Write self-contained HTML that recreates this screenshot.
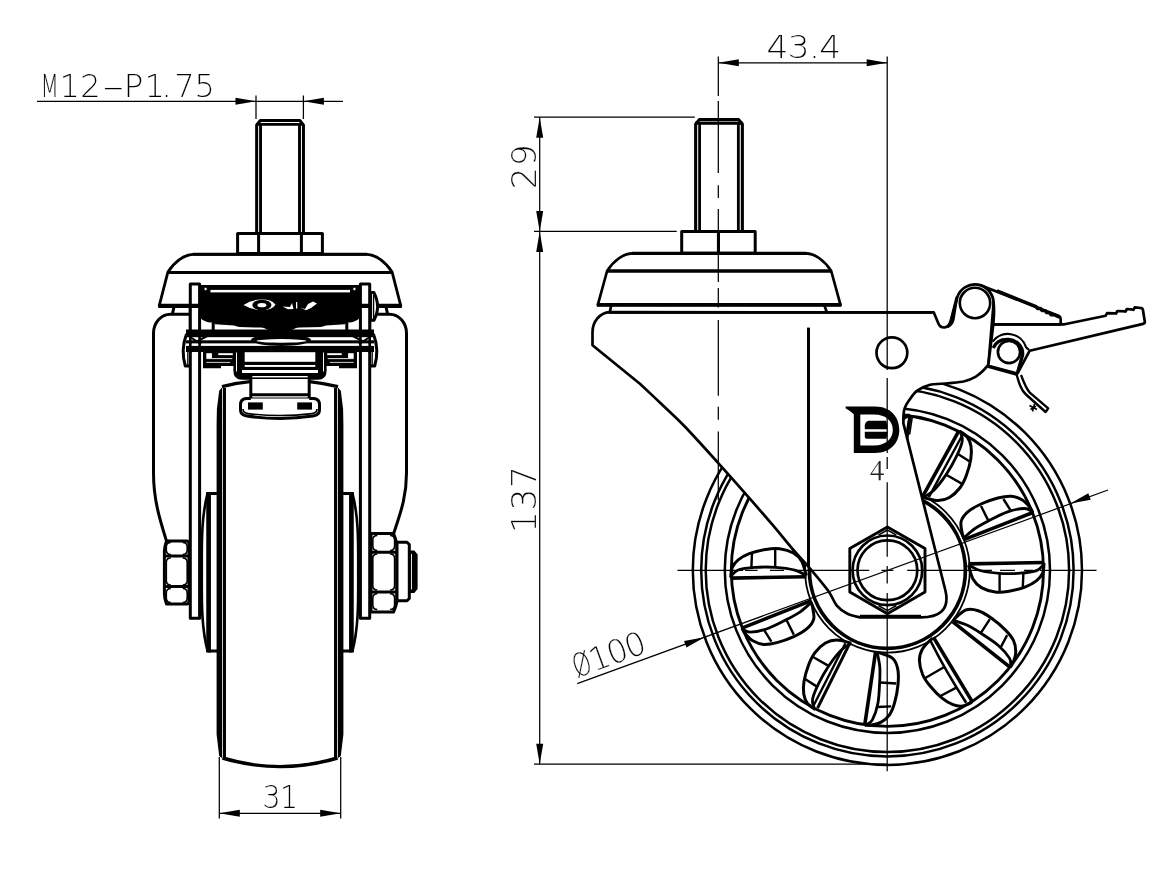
<!DOCTYPE html>
<html><head><meta charset="utf-8"><title>Caster drawing</title>
<style>
html,body{margin:0;padding:0;background:#fff;}
body{width:1174px;height:870px;overflow:hidden;}
svg{display:block;}
.m{fill:none;stroke:#000;stroke-width:3;stroke-linecap:butt;stroke-linejoin:round;}
.r{fill:none;stroke:#000;stroke-width:2.7;stroke-linecap:butt;stroke-linejoin:round;}
.rw{fill:#fff;stroke:#000;stroke-width:2.7;stroke-linejoin:round;}
.mw{fill:#fff;stroke:#000;stroke-width:3;stroke-linejoin:round;}
.t{fill:none;stroke:#000;stroke-width:1.25;}
.k{fill:#000;stroke:none;}
.w{fill:#fff;stroke:none;}
text{font-family:"DejaVu Sans Light","DejaVu Sans","Liberation Sans",sans-serif;font-weight:200;fill:#000;stroke:#fff;stroke-width:0.15px;paint-order:fill stroke;}
.dt{font-size:32px;letter-spacing:-0.6px;}
</style></head><body>
<svg style="filter:grayscale(1)" width="1174" height="870" viewBox="0 0 1174 870">
<rect x="0" y="0" width="1174" height="870" fill="#fff"/>
<g id="front">
<path class="k" d="M224,385 L219.2,390.7 L216.9,409 L216.6,425 V734.5 L219.2,756 L222,758 V388 Z M336,385 L340.8,390.7 L343.1,409 L343.4,425 V734.5 L340.8,756 L338,758 V388 Z"/>
<path class="m" style="stroke-width:3.2" d="M224.4,388 V759 M335.6,388 V759"/>
<path class="m" style="stroke-width:3.4" d="M222.5,758 Q280,775.2 337.5,758"/>
<path class="m" style="stroke-width:3.2" d="M222,386.6 Q250,379.8 280,379.8 Q310,379.8 338,386.6"/>
<path class="m" d="M217.5,493.4 H207.8 M217.5,651 H207.8"/>
<path class="m" style="stroke-width:4.7" d="M208.6,492 V652.4"/>
<path class="m" style="stroke-width:2.6" d="M207.8,492.3 C201.0,518 201.8,545 201.8,572 C201.8,600 201.0,626 207.8,652"/>
<path class="m" d="M342.5,493.4 H352.2 M342.5,651 H352.2"/>
<path class="m" style="stroke-width:4.7" d="M351.4,492 V652.4"/>
<path class="m" style="stroke-width:2.6" d="M352.2,492.3 C359.0,518 358.2,545 358.2,572 C358.2,600 359.0,626 352.2,652"/>
<path class="m" d="M174.2,306 L172.4,314 M190,314.2 H170.5 A17,19 0 0 0 153.5,333.2 V473 C153.5,500 160,520 166.5,541"/>
<path class="m" d="M385.8,306 L387.6,314 M377,314.2 H389.5 A17,19 0 0 1 406.5,333.2 V473 C406.5,498 400,514 393.5,534"/>
<path class="mw" d="M190.3,284 H199.6 V618.3 H190.3 Z"/>
<path class="mw" d="M360.4,284 H369.7 V618.3 H360.4 Z"/>
<path class="mw" d="M166.5,541 H186.5 Q189,541 189,544 V601 Q189,604 186.5,604 H166.5 Q164.4,598 164.4,594 V551 Q164.4,547 166.5,541 Z"/>
<path class="m" d="M164.6,556 H189 M164.6,586.6 H189"/>
<path class="m" style="stroke-width:1.6" d="M170.8,542.5 Q166.3,542.5 166.3,547.0 V550.0 Q166.3,554.5 170.8,554.5 M182.7,542.5 Q187.2,542.5 187.2,547.0 V550.0 Q187.2,554.5 182.7,554.5 M170.8,558.0 Q166.3,558.0 166.3,562.5 V580.5 Q166.3,585.0 170.8,585.0 M182.7,558.0 Q187.2,558.0 187.2,562.5 V580.5 Q187.2,585.0 182.7,585.0 M170.8,588.5 Q166.3,588.5 166.3,593.0 V598.0 Q166.3,602.5 170.8,602.5 M182.7,588.5 Q187.2,588.5 187.2,593.0 V598.0 Q187.2,602.5 182.7,602.5"/>
<path class="mw" d="M371,533.5 H393.5 Q396.8,541 396.8,546 V600 Q396.8,605 393.5,612 H371 Z"/>
<path class="m" d="M371,552.2 H396.6 M371,592 H396.6"/>
<path class="m" style="stroke-width:1.6" d="M377.3,535.5 Q372.8,535.5 372.8,540.0 V546.0 Q372.8,550.5 377.3,550.5 M390.1,535.5 Q394.6,535.5 394.6,540.0 V546.0 Q394.6,550.5 390.1,550.5 M377.3,554.0 Q372.8,554.0 372.8,558.5 V585.5 Q372.8,590.0 377.3,590.0 M390.1,554.0 Q394.6,554.0 394.6,558.5 V585.5 Q394.6,590.0 390.1,590.0 M377.3,593.8 Q372.8,593.8 372.8,598.3 V605.0 Q372.8,609.5 377.3,609.5 M390.1,593.8 Q394.6,593.8 394.6,598.3 V605.0 Q394.6,609.5 390.1,609.5"/>
<path class="mw" d="M397,542.2 H407 L409.3,544.5 V598.5 L407,600.8 H397 Z"/>
<path class="k" d="M409.3,550.5 H414.3 L417.6,554.5 V589 L414.3,593 H409.3 Z"/>
<path class="w" d="M411,554 h0.9 v35.5 h-0.9 Z"/>
<path class="mw" d="M256.65,233.2 V125 L260.3,120.55 H299.8 L303.45,125 V233.2"/>
<path class="m" style="stroke-width:2.9" d="M256,124.35 H304 M260.55,124 V233 M299.5,124 V233"/>
<path class="mw" d="M237.6,233.6 H322.4 V253.5 H237.6 Z"/>
<path class="m" d="M258.6,233.6 V253 M301.4,233.6 V253"/>
<path class="mw" style="stroke-width:2.8" d="M159.2,305.8 L167.8,272.3 C174,262.3 184,254.6 193,254.3 H367 C376,254.6 386,262.3 392.2,272.3 L400.8,305.8 Z"/>
<path class="m" style="stroke-width:3" d="M167.8,272.4 H392.2 M193,254.3 H367"/>
<rect class="w" x="200.8" y="285" width="158.4" height="44"/>
<path class="mw" d="M190.3,329 V284 H199.6 V329"/>
<path class="mw" d="M360.4,329 V284 H369.7 V329"/>
<path class="m" style="stroke-width:4.2" d="M158.3,305.8 H201 M359,305.8 H401.7"/>
<path class="mw" d="M370.6,292.6 H374 Q377.6,300 377.6,306.5 Q377.6,313 374,320.3 H370.6 Z"/>
<path class="m" style="stroke-width:1.3" d="M373.6,294 V319"/>
<path class="k" d="M200.8,285 H359.2 V291 H200.8 Z"/>
<path class="k" d="M201,290 H359 V318.5 Q356,321.5 350,322.6 L346.5,322.2 L345,324.2 L326,325.6 L321,327 L300,327.6 L280,328.8 L260,327.6 L239,327 L234,325.6 L215,324.2 L213.5,322.2 L210,322.6 Q204,321.5 201,318.5 Z"/>
<rect class="w" x="210.5" y="289.9" width="139.5" height="2.5"/>
<rect class="w" x="204.6" y="287.8" width="2" height="2.4" /><rect class="w" x="353.4" y="287.8" width="2" height="2.4" />
<path class="w" d="M243.5,305 Q252,299.3 262,299.6 Q272,299.5 275.5,304.8 Q272,310.2 262,310 Q252,310 243.5,305 Z"/>
<ellipse cx="261.9" cy="305" rx="9.6" ry="5.2" fill="#000"/>
<ellipse cx="261.9" cy="305.2" rx="4.4" ry="2.1" fill="#fff"/>
<path class="w" d="M282.5,306.5 L290,307 L292,303 L293.5,309 L288,309.3 Z M296,302 L297.2,302 L297.4,308.5 L296,308.5 Z M300,307.5 L305,309 L308,304 L313,301.5 L317,303.5 L311,308 L306,310.3 Z"/>
<path class="m" style="stroke-width:3" d="M213.2,321 V330 M346.8,321 V330"/>
<path class="k" d="M262,327 H298 L290,331 H270 Z"/>
<rect class="k" x="186" y="329.5" width="188" height="7.9"/>
<rect class="w" x="186.5" y="337.4" width="187" height="3"/>
<rect class="k" x="186" y="340.3" width="188" height="3.3"/>
<rect class="w" x="186.5" y="343.6" width="187" height="2.3"/>
<rect class="k" x="186" y="345.9" width="188" height="6.1"/>
<ellipse cx="281" cy="340" rx="30" ry="6" fill="#000"/>
<ellipse cx="281.5" cy="340.9" rx="25" ry="1.8" fill="#fff"/>
<path class="m" style="stroke-width:2.6" d="M190.3,329 V353 M199.6,329 V353"/>
<path class="m" style="stroke-width:2" d="M187.0,335 L201.0,344 M209.0,335 L196.0,342"/>
<path class="m" d="M186.5,334 Q180.5,350 185.3,366 H189.5"/>
<path class="m" style="stroke-width:1.3" d="M187.8,348 V365"/>
<path class="k" d="M203.0,351 H234.0 V366 H221.0 V368.3 H203.0 Z"/>
<rect class="w" x="206.3" y="353.2" width="5.6" height="5"/>
<rect class="w" x="218.3" y="353.2" width="14.5" height="1.9"/>
<rect class="w" x="206.3" y="358.2" width="26" height="0.9"/>
<rect class="w" x="206.3" y="361.9" width="24" height="0.8"/>
<path class="m" style="stroke-width:2.6" d="M369.7,329 V353 M360.4,329 V353"/>
<path class="m" style="stroke-width:2" d="M373.0,335 L359.0,344 M351.0,335 L364.0,342"/>
<path class="m" d="M373.5,334 Q379.5,350 374.7,366 H370.5"/>
<path class="m" style="stroke-width:1.3" d="M372.2,348 V365"/>
<path class="k" d="M357.0,351 H326.0 V366 H339.0 V368.3 H357.0 Z"/>
<rect class="w" x="348.1" y="353.2" width="5.6" height="5"/>
<rect class="w" x="327.2" y="353.2" width="14.5" height="1.9"/>
<rect class="w" x="327.7" y="358.2" width="26" height="0.9"/>
<rect class="w" x="329.7" y="361.9" width="24" height="0.8"/>
<path class="k" d="M233.4,351 H326.6 V371 Q326.6,379.6 318,379.8 H242 Q233.4,379.6 233.4,371 Z"/>
<rect class="w" x="244.7" y="352.2" width="70.6" height="9.6"/>
<rect class="w" x="244.7" y="365" width="70.6" height="1.9"/>
<rect class="w" x="242" y="370" width="76" height="3"/>
<rect class="w" x="252.3" y="376" width="55.4" height="1.4"/>
<path class="w" d="M236,352.5 h1 v19 h-1 Z M323,352.5 h1 v19 h-1 Z"/>
<path class="mw" d="M250.8,379 V399 H309.2 V379"/>
<path class="m" d="M250.8,394.8 H309.2"/>
<path class="mw" d="M250.8,398.6 H246 Q240.5,399 240.5,405 V410 Q240.5,415 247,416 Q280,420.8 313,416 Q319.5,415 319.5,410 V405 Q319.5,399 314,398.6 H309.2"/>
<path class="m" style="stroke-width:1.6" d="M243,409 Q243,413 248,413.6 Q280,417.5 312,413.6 Q317,413 317,409"/>
<rect class="k" x="248" y="402.4" width="14.8" height="7.2"/>
<rect class="k" x="297.2" y="402.4" width="14.8" height="7.2"/>
</g>
<g id="side">
<circle cx="887.4" cy="570.3" r="194.6" fill="none" stroke="#000" stroke-width="2.5"/>
<circle cx="887.4" cy="570.3" r="186.2" fill="none" stroke="#000" stroke-width="2.5"/>
<circle cx="887.4" cy="570.3" r="181.7" fill="none" stroke="#000" stroke-width="2.5"/>
<circle cx="887.4" cy="570.3" r="162.6" fill="none" stroke="#000" stroke-width="2.5"/>
<circle cx="887.4" cy="570.3" r="156.1" fill="none" stroke="#000" stroke-width="2.9"/>
<circle cx="887.4" cy="570.3" r="82.4" fill="none" stroke="#000" stroke-width="1.8"/>
<circle cx="887.4" cy="570.3" r="78.0" fill="none" stroke="#000" stroke-width="3.7"/>
<g transform="rotate(0 887.4 570.3)"><path class="r" style="stroke-width:3.6" d="M964.1,539.7 L1032.9,512.5"/><path class="r" style="stroke-width:2.8" d="M964.30,537.50 C966.08,536.00 971.00,531.25 975.00,528.50 C979.00,525.75 982.87,523.77 988.30,521.00 C993.73,518.23 1001.57,513.98 1007.60,511.90 C1013.63,509.82 1020.52,508.62 1024.50,508.50 C1028.48,508.38 1030.33,510.75 1031.50,511.20"/><path class="r" style="stroke-width:3" d="M964.00,538.50 C963.72,537.68 962.78,536.43 962.30,533.60 C961.82,530.77 960.18,525.12 961.10,521.50 C962.02,517.88 964.48,514.82 967.80,511.90 C971.12,508.98 975.98,506.32 981.00,504.00 C986.02,501.68 992.87,499.30 997.90,498.00 C1002.93,496.70 1007.18,495.90 1011.20,496.20 C1015.22,496.50 1018.98,498.08 1022.00,499.80 C1025.02,501.52 1027.48,504.38 1029.30,506.50 C1031.12,508.62 1032.30,511.50 1032.90,512.50"/><path class="r" style="stroke-width:2.4" d="M981.0,506.0 L988.3,520.6 M1003.4,499.0 L1010.8,510.7"/><path class="r" style="stroke-width:3.6" d="M968.3,563.9 L1044.1,562.5"/><path class="r" style="stroke-width:2.8" d="M968.80,565.20 C970.67,566.08 974.92,569.15 980.00,570.50 C985.08,571.85 992.63,572.85 999.30,573.30 C1005.97,573.75 1013.78,573.65 1020.00,573.20 C1026.22,572.75 1032.73,571.97 1036.60,570.60 C1040.47,569.23 1042.10,565.93 1043.20,565.00"/><path class="r" style="stroke-width:3" d="M968.50,565.00 C969.27,567.38 970.95,575.53 973.10,579.30 C975.25,583.07 977.72,585.50 981.40,587.60 C985.08,589.70 990.60,591.30 995.20,591.90 C999.80,592.50 1003.95,592.03 1009.00,591.20 C1014.05,590.37 1020.90,588.65 1025.50,586.90 C1030.10,585.15 1033.75,583.02 1036.60,580.70 C1039.45,578.38 1041.35,575.95 1042.60,573.00 C1043.85,570.05 1043.85,564.67 1044.10,563.00"/><path class="r" style="stroke-width:2.4" d="M999.6,573.5 L999.6,591.3 M1023.4,573.2 L1022.8,587.2"/></g>
<g transform="rotate(60 887.4 570.3)"><path class="r" style="stroke-width:3.6" d="M964.1,539.7 L1032.9,512.5"/><path class="r" style="stroke-width:2.8" d="M964.30,537.50 C966.08,536.00 971.00,531.25 975.00,528.50 C979.00,525.75 982.87,523.77 988.30,521.00 C993.73,518.23 1001.57,513.98 1007.60,511.90 C1013.63,509.82 1020.52,508.62 1024.50,508.50 C1028.48,508.38 1030.33,510.75 1031.50,511.20"/><path class="r" style="stroke-width:3" d="M964.00,538.50 C963.72,537.68 962.78,536.43 962.30,533.60 C961.82,530.77 960.18,525.12 961.10,521.50 C962.02,517.88 964.48,514.82 967.80,511.90 C971.12,508.98 975.98,506.32 981.00,504.00 C986.02,501.68 992.87,499.30 997.90,498.00 C1002.93,496.70 1007.18,495.90 1011.20,496.20 C1015.22,496.50 1018.98,498.08 1022.00,499.80 C1025.02,501.52 1027.48,504.38 1029.30,506.50 C1031.12,508.62 1032.30,511.50 1032.90,512.50"/><path class="r" style="stroke-width:2.4" d="M981.0,506.0 L988.3,520.6 M1003.4,499.0 L1010.8,510.7"/><path class="r" style="stroke-width:3.6" d="M968.3,563.9 L1044.1,562.5"/><path class="r" style="stroke-width:2.6" d="M970.5,568.3 Q1004,570.3 1041.5,568.3"/><path class="r" style="stroke-width:3" d="M968.50,565.00 C969.27,567.38 970.95,575.53 973.10,579.30 C975.25,583.07 977.72,585.50 981.40,587.60 C985.08,589.70 990.60,591.30 995.20,591.90 C999.80,592.50 1003.95,592.03 1009.00,591.20 C1014.05,590.37 1020.90,588.65 1025.50,586.90 C1030.10,585.15 1033.75,583.02 1036.60,580.70 C1039.45,578.38 1041.35,575.95 1042.60,573.00 C1043.85,570.05 1043.85,564.67 1044.10,563.00"/><path class="r" style="stroke-width:2.4" d="M999.6,569.5 L999.6,591.3 M1023.4,569.3 L1022.8,587.2"/></g>
<g transform="rotate(120 887.4 570.3)"><path class="r" style="stroke-width:3.6" d="M964.1,539.7 L1032.9,512.5"/><path class="r" style="stroke-width:2.8" d="M964.30,537.50 C966.08,536.00 971.00,531.25 975.00,528.50 C979.00,525.75 982.87,523.77 988.30,521.00 C993.73,518.23 1001.57,513.98 1007.60,511.90 C1013.63,509.82 1020.52,508.62 1024.50,508.50 C1028.48,508.38 1030.33,510.75 1031.50,511.20"/><path class="r" style="stroke-width:3" d="M964.00,538.50 C963.72,537.68 962.78,536.43 962.30,533.60 C961.82,530.77 960.18,525.12 961.10,521.50 C962.02,517.88 964.48,514.82 967.80,511.90 C971.12,508.98 975.98,506.32 981.00,504.00 C986.02,501.68 992.87,499.30 997.90,498.00 C1002.93,496.70 1007.18,495.90 1011.20,496.20 C1015.22,496.50 1018.98,498.08 1022.00,499.80 C1025.02,501.52 1027.48,504.38 1029.30,506.50 C1031.12,508.62 1032.30,511.50 1032.90,512.50"/><path class="r" style="stroke-width:2.4" d="M981.0,506.0 L988.3,520.6 M1003.4,499.0 L1010.8,510.7"/><path class="r" style="stroke-width:3" d="M970.7,566.3 L1041.7,561.9"/><path class="r" style="stroke-width:2.4" d="M971.6,570.2 L1041.7,566.6"/><path class="r" style="stroke-width:2.8" d="M968.80,565.20 C970.67,566.08 974.92,569.15 980.00,570.50 C985.08,571.85 992.63,572.85 999.30,573.30 C1005.97,573.75 1013.78,573.65 1020.00,573.20 C1026.22,572.75 1032.73,571.97 1036.60,570.60 C1040.47,569.23 1042.10,565.93 1043.20,565.00"/><path class="r" style="stroke-width:3" d="M968.50,565.00 C969.27,567.38 970.95,575.53 973.10,579.30 C975.25,583.07 977.72,585.50 981.40,587.60 C985.08,589.70 990.60,591.30 995.20,591.90 C999.80,592.50 1003.95,592.03 1009.00,591.20 C1014.05,590.37 1020.90,588.65 1025.50,586.90 C1030.10,585.15 1033.75,583.02 1036.60,580.70 C1039.45,578.38 1041.35,575.95 1042.60,573.00 C1043.85,570.05 1043.85,564.67 1044.10,563.00"/><path class="r" style="stroke-width:2.4" d="M999.6,573.5 L999.6,591.3 M1023.4,573.2 L1022.8,587.2"/></g>
<g transform="rotate(180 887.4 570.3)"><path class="r" style="stroke-width:3.6" d="M964.1,539.7 L1032.9,512.5"/><path class="r" style="stroke-width:2.8" d="M964.30,537.50 C966.08,536.00 971.00,531.25 975.00,528.50 C979.00,525.75 982.87,523.77 988.30,521.00 C993.73,518.23 1001.57,513.98 1007.60,511.90 C1013.63,509.82 1020.52,508.62 1024.50,508.50 C1028.48,508.38 1030.33,510.75 1031.50,511.20"/><path class="r" style="stroke-width:3" d="M964.00,538.50 C963.72,537.68 962.78,536.43 962.30,533.60 C961.82,530.77 960.18,525.12 961.10,521.50 C962.02,517.88 964.48,514.82 967.80,511.90 C971.12,508.98 975.98,506.32 981.00,504.00 C986.02,501.68 992.87,499.30 997.90,498.00 C1002.93,496.70 1007.18,495.90 1011.20,496.20 C1015.22,496.50 1018.98,498.08 1022.00,499.80 C1025.02,501.52 1027.48,504.38 1029.30,506.50 C1031.12,508.62 1032.30,511.50 1032.90,512.50"/><path class="r" style="stroke-width:2.4" d="M981.0,506.0 L988.3,520.6 M1003.4,499.0 L1010.8,510.7"/><path class="r" style="stroke-width:3.6" d="M968.3,563.9 L1044.1,562.5"/><path class="r" style="stroke-width:2.8" d="M968.80,565.20 C970.67,566.08 974.92,569.15 980.00,570.50 C985.08,571.85 992.63,572.85 999.30,573.30 C1005.97,573.75 1013.78,573.65 1020.00,573.20 C1026.22,572.75 1032.73,571.97 1036.60,570.60 C1040.47,569.23 1042.10,565.93 1043.20,565.00"/><path class="r" style="stroke-width:3" d="M968.50,565.00 C969.27,567.38 970.95,575.53 973.10,579.30 C975.25,583.07 977.72,585.50 981.40,587.60 C985.08,589.70 990.60,591.30 995.20,591.90 C999.80,592.50 1003.95,592.03 1009.00,591.20 C1014.05,590.37 1020.90,588.65 1025.50,586.90 C1030.10,585.15 1033.75,583.02 1036.60,580.70 C1039.45,578.38 1041.35,575.95 1042.60,573.00 C1043.85,570.05 1043.85,564.67 1044.10,563.00"/><path class="r" style="stroke-width:2.4" d="M999.6,573.5 L999.6,591.3 M1023.4,573.2 L1022.8,587.2"/></g>
<g transform="rotate(240 887.4 570.3)"><path class="r" style="stroke-width:3.6" d="M964.1,539.7 L1032.9,512.5"/><path class="r" style="stroke-width:2.8" d="M964.30,537.50 C966.08,536.00 971.00,531.25 975.00,528.50 C979.00,525.75 982.87,523.77 988.30,521.00 C993.73,518.23 1001.57,513.98 1007.60,511.90 C1013.63,509.82 1020.52,508.62 1024.50,508.50 C1028.48,508.38 1030.33,510.75 1031.50,511.20"/><path class="r" style="stroke-width:3" d="M964.00,538.50 C963.72,537.68 962.78,536.43 962.30,533.60 C961.82,530.77 960.18,525.12 961.10,521.50 C962.02,517.88 964.48,514.82 967.80,511.90 C971.12,508.98 975.98,506.32 981.00,504.00 C986.02,501.68 992.87,499.30 997.90,498.00 C1002.93,496.70 1007.18,495.90 1011.20,496.20 C1015.22,496.50 1018.98,498.08 1022.00,499.80 C1025.02,501.52 1027.48,504.38 1029.30,506.50 C1031.12,508.62 1032.30,511.50 1032.90,512.50"/><path class="r" style="stroke-width:2.4" d="M981.0,506.0 L988.3,520.6 M1003.4,499.0 L1010.8,510.7"/><path class="r" style="stroke-width:3.6" d="M968.3,563.9 L1044.1,562.5"/><path class="r" style="stroke-width:2.8" d="M968.80,565.20 C970.67,566.08 974.92,569.15 980.00,570.50 C985.08,571.85 992.63,572.85 999.30,573.30 C1005.97,573.75 1013.78,573.65 1020.00,573.20 C1026.22,572.75 1032.73,571.97 1036.60,570.60 C1040.47,569.23 1042.10,565.93 1043.20,565.00"/><path class="r" style="stroke-width:3" d="M968.50,565.00 C969.27,567.38 970.95,575.53 973.10,579.30 C975.25,583.07 977.72,585.50 981.40,587.60 C985.08,589.70 990.60,591.30 995.20,591.90 C999.80,592.50 1003.95,592.03 1009.00,591.20 C1014.05,590.37 1020.90,588.65 1025.50,586.90 C1030.10,585.15 1033.75,583.02 1036.60,580.70 C1039.45,578.38 1041.35,575.95 1042.60,573.00 C1043.85,570.05 1043.85,564.67 1044.10,563.00"/><path class="r" style="stroke-width:2.4" d="M999.6,573.5 L999.6,591.3 M1023.4,573.2 L1022.8,587.2"/></g>
<g transform="rotate(300 887.4 570.3)"><path class="r" style="stroke-width:3.6" d="M964.1,539.7 L1032.9,512.5"/><path class="r" style="stroke-width:2.8" d="M964.30,537.50 C966.08,536.00 971.00,531.25 975.00,528.50 C979.00,525.75 982.87,523.77 988.30,521.00 C993.73,518.23 1001.57,513.98 1007.60,511.90 C1013.63,509.82 1020.52,508.62 1024.50,508.50 C1028.48,508.38 1030.33,510.75 1031.50,511.20"/><path class="r" style="stroke-width:3" d="M964.00,538.50 C963.72,537.68 962.78,536.43 962.30,533.60 C961.82,530.77 960.18,525.12 961.10,521.50 C962.02,517.88 964.48,514.82 967.80,511.90 C971.12,508.98 975.98,506.32 981.00,504.00 C986.02,501.68 992.87,499.30 997.90,498.00 C1002.93,496.70 1007.18,495.90 1011.20,496.20 C1015.22,496.50 1018.98,498.08 1022.00,499.80 C1025.02,501.52 1027.48,504.38 1029.30,506.50 C1031.12,508.62 1032.30,511.50 1032.90,512.50"/><path class="r" style="stroke-width:2.4" d="M981.0,506.0 L988.3,520.6 M1003.4,499.0 L1010.8,510.7"/><path class="r" style="stroke-width:3.6" d="M968.3,563.9 L1044.1,562.5"/><path class="r" style="stroke-width:2.4" d="M971.5,569.6 L1043.2,567.6"/><path class="r" style="stroke-width:2.8" d="M968.80,565.20 C970.67,566.08 974.92,569.15 980.00,570.50 C985.08,571.85 992.63,572.85 999.30,573.30 C1005.97,573.75 1013.78,573.65 1020.00,573.20 C1026.22,572.75 1032.73,571.97 1036.60,570.60 C1040.47,569.23 1042.10,565.93 1043.20,565.00"/><path class="r" style="stroke-width:3" d="M968.50,565.00 C969.27,567.38 970.95,575.53 973.10,579.30 C975.25,583.07 977.72,585.50 981.40,587.60 C985.08,589.70 990.60,591.30 995.20,591.90 C999.80,592.50 1003.95,592.03 1009.00,591.20 C1014.05,590.37 1020.90,588.65 1025.50,586.90 C1030.10,585.15 1033.75,583.02 1036.60,580.70 C1039.45,578.38 1041.35,575.95 1042.60,573.00 C1043.85,570.05 1043.85,564.67 1044.10,563.00"/><path class="r" style="stroke-width:2.4" d="M999.6,573.5 L999.6,591.3 M1023.4,573.2 L1022.8,587.2"/></g>
<path class="rw" d="M609.7,312.2 A18,20 0 0 0 592.5,332.5 L592.5,345.3 L640.2,384 C643.87,387.45 654.85,397.70 662.20,404.70 C669.55,411.70 674.95,416.27 684.30,426.00 C693.65,435.73 708.15,451.87 718.30,463.10 C728.45,474.33 736.12,483.05 745.20,493.40 C754.28,503.75 764.77,515.77 772.80,525.20 C780.83,534.63 787.43,543.07 793.40,550.00 C799.37,556.93 802.83,560.05 808.60,566.80 C814.37,573.55 823.30,584.03 828.00,590.50 C832.70,596.97 833.55,601.72 836.80,605.60 C840.05,609.48 843.63,611.83 847.50,613.80 C851.37,615.77 857.92,616.80 860.00,617.40 L921,617.4 C938,617.4 950.5,611 945.3,590 L903.4,423.4 C903.42,422.08 903.28,418.05 903.50,415.50 C903.72,412.95 903.77,410.63 904.70,408.10 C905.63,405.57 907.07,403.18 909.10,400.30 C911.13,397.42 913.53,393.35 916.90,390.80 C920.27,388.25 924.13,386.25 929.30,385.00 C934.47,383.75 942.03,383.93 947.90,383.30 C953.77,382.67 959.83,382.32 964.50,381.20 C969.17,380.08 972.72,378.42 975.90,376.60 C979.08,374.78 981.52,372.30 983.60,370.30 C985.68,368.30 987.60,365.55 988.40,364.60 C990,345 991.8,325 993.6,303 A18.6,18.6 0 0 0 957.3,297.2 L950.8,322.5 Q947.5,327.5 944.2,327.5 Q940,327.5 938.4,323.5 L933.8,312.4 Z"/>
<path class="k" d="M946.8,327.2 L949.4,320.5 L955.6,296.6 L958.2,297.6 L954.6,320 Q953,325.5 948.5,328 Z"/>
<path class="r" style="stroke-width:1.6" d="M912.2,417.5 L909.6,434.5"/>
<path class="r" style="stroke-width:3" d="M808.5,327.6 V567"/>
<circle class="r" cx="891.9" cy="352.8" r="15.4"/>
<circle class="r" style="stroke-width:2.6" cx="975" cy="303" r="15.2"/>
<path class="r" d="M860,616.2 H921"/>
<path class="rw" style="stroke-width:2.9" d="M887.4,526.9 L925.0,548.6 L925.0,592.0 L887.4,613.7 L849.8,592.0 L849.8,548.6 Z"/>
<path class="r" style="stroke-width:1.5" d="M878.4,535.1 L887.4,530.0 L896.4,535.1 M878.4,605.5 L887.4,610.6 L896.4,605.5"/>
<circle class="r" cx="887.4" cy="570.3" r="34.8"/>
<circle class="r" cx="887.4" cy="570.3" r="29.9"/>
<path class="rw" d="M993.3,324.3 H1064.6 L1105.7,315.7 L1107.1,313.2 L1115.5,313.3 L1116.0,313.5 L1117.4,311.0 L1125.0,311.3 L1125.5,311.5 L1126.9,309.0 L1133.0,309.6 L1133.4,309.8 L1134.8,307.4 L1141.0,308.0 L1141,308.2 Q1142.6,307.9 1142.9,309.8 L1144.8,321.5 Q1145,323.4 1143,323.9 L1029.7,350.7 L1017.4,373.6 L988.2,365.8 C990,352 991.6,338 993.3,324.3 Z"/>
<path class="rw" d="M980.6,285.3 L1058.5,315.8 Q1060.6,316.8 1060.7,319 V324.3 H993.3 C994,316 994.6,310 993.6,303 A18.6,18.6 0 0 0 980.6,285.3 Z"/>
<path class="r" style="stroke-width:3.4" d="M997,290.8 L1036,306.6 l1.5,1.9 l3,0 l1.5,2 l3,0.1 l1.5,2 l3,0.1 l1.5,2 l3,0.1 L1059.6,317.2"/>
<path class="r" style="stroke-width:3" d="M987.4,366.2 L1017.4,374.6"/>
<path class="r" style="stroke-width:2.2" d="M1029.1,349.8 C1027,348.8 1026.6,348 1026,347.2 A19,19 0 0 0 992.6,341.7"/>
<path class="r" style="stroke-width:3.3" d="M1017.6,372.3 L1022.6,355 C1023.3,346 1016,339.8 1008.5,339.4 C1001.5,339 996,341.5 993.2,348"/>
<circle class="rw" cx="1009" cy="352" r="11.1"/>
<path class="r" style="stroke-width:2.4" d="M1016.6,374.5 C1019,383 1021,390 1026,394.5 L1045.6,412 L1048.2,408.4 L1029.8,392.6 C1026,388.6 1023.6,382 1021,375"/>
<path class="r" style="stroke-width:1.6" d="M1029.5,405.5 L1037,409.5 M1034.5,404 L1032.5,411.5 M1030.5,409.5 l5.5,-3.4"/>
<path class="r" style="stroke-width:2.9" d="M609,312.4 H933.6"/>
<path class="rw" style="stroke-width:3.1" d="M695.65,231.2 V124 L699.3,119.65 H738.7 L742.35,124 V231.2"/>
<path class="r" style="stroke-width:2.8" d="M695,123.25 H743 M699.6,123 V231 M738.35,123 V231"/>
<path class="rw" style="stroke-width:3" d="M681.7,231.5 H755.2 V253.3 H681.7 Z"/>
<path class="r" style="stroke-width:3.1" d="M718.45,231.5 V253.3"/>
<path class="rw" style="stroke-width:2.7" d="M597.8,304.9 L607.1,271 C613.3,261 623.3,253.6 632.3,253.3 H806 C815,253.6 825,261 831.2,271 L840.5,304.9 Z"/>
<path class="r" style="stroke-width:3.1" d="M632,253.4 H806.3"/>
<path class="r" style="stroke-width:3.3" d="M607.1,271 H831.2"/>
<path class="r" style="stroke-width:3.9" d="M596.9,304.9 H841.4"/>
<path class="r" d="M611.2,305 L609.8,312.2 M824.3,305 L826.8,312.2"/>
<path class="k" fill-rule="evenodd" d="M845.6,406.6 H875 C891,406.6 899.3,417.5 899.3,429.8 C899.3,442.5 891,453 875,453 H853.8 V414.2 Q849.5,410.5 845.6,408.3 Z M860.3,414.6 V445.4 H874 C886,445.4 892.8,438.5 892.8,429.9 C892.8,421.3 886,414.6 874,414.6 Z"/>
<path class="k" d="M868.5,420.8 H886.2 Q887.6,425 887.6,429.2 H864.8 V425 Q865.5,421.5 868.5,420.8 Z M864.8,431.7 H887.6 Q887.4,435.5 886.2,438.8 H866.5 Q864.8,438.6 864.8,437 Z"/>
<text x="869.8" y="480" style="font-family:'Noto Serif CJK SC','Liberation Serif',serif;font-weight:400;font-size:26.5px;fill:#222;stroke:none">4</text>
</g>
<g id="dims">
<path class="t" d="M37,101.3 H343 M256,95.4 V119 M303.4,95.4 V119"/>
<path class="k" d="M256.00,101.30 L235.50,104.80 L235.50,97.80 Z"/>
<path class="k" d="M303.40,101.30 L323.90,97.80 L323.90,104.80 Z"/>
<text class="dt" y="97"><tspan x="40.6" textLength="18" lengthAdjust="spacingAndGlyphs">M</tspan><tspan x="59.5">1</tspan><tspan x="80.3">2</tspan><tspan x="101.8" textLength="22" lengthAdjust="spacingAndGlyphs">-</tspan><tspan x="123.8" textLength="19" lengthAdjust="spacingAndGlyphs">P</tspan><tspan x="144.5">1</tspan><tspan x="161.5">.</tspan><tspan x="174.3">7</tspan><tspan x="194.5">5</tspan></text>
<path class="t" d="M219.3,757 V818.5 M340.7,757 V818.5 M219.3,813.3 H340.7"/>
<path class="k" d="M219.30,813.30 L239.80,809.80 L239.80,816.80 Z"/>
<path class="k" d="M340.70,813.30 L320.20,816.80 L320.20,809.80 Z"/>
<text class="dt" x="262.5" y="808.4" textLength="35" lengthAdjust="spacingAndGlyphs">31</text>
<path class="t" d="M718.3,62.8 H887.2"/>
<path class="k" d="M718.30,62.80 L738.80,59.30 L738.80,66.30 Z"/>
<path class="k" d="M887.20,62.80 L866.70,66.30 L866.70,59.30 Z"/>
<text class="dt" x="766.5" y="58.2" textLength="74" lengthAdjust="spacingAndGlyphs">43.4</text>
<path class="t" d="M718.3,56.4 V95.9 M718.3,101.0 V172.9 M718.3,185.2 V198.1 M718.3,209.0 V282.0 M718.3,288.0 V307.5 M718.3,320.0 V395.7 M718.3,406.7 V419.8 M718.3,431.6 V500.3"/>
<path class="t" d="M887.2,56.5 V370 M887.2,378 V453 M887.2,457 V469 M887.2,482.3 V556.7 M887.2,566 V583.4 M887.2,593 V771.3"/>
<path class="t" d="M677.5,570.4 H743 M745,570.4 H757.6 M770,570.4 H784 M795,570.4 H869.3 M881.4,570.4 H893.4 M907.2,570.4 H992 M1000,570.4 H1015 M1024,570.4 H1033 M1040,570.4 H1096.5"/>
<path class="t" d="M534,117.2 H694.8 M534,231.4 H676.7 M534,764.2 H887.2 M539.7,117.2 V764.2"/>
<path class="k" d="M539.70,117.20 L543.20,137.70 L536.20,137.70 Z"/>
<path class="k" d="M539.70,231.40 L536.20,210.90 L543.20,210.90 Z"/>
<path class="k" d="M539.70,231.40 L543.20,251.90 L536.20,251.90 Z"/>
<path class="k" d="M539.70,764.20 L536.20,743.70 L543.20,743.70 Z"/>
<text class="dt" style="font-size:34.5px;letter-spacing:1.2px" transform="translate(535.9,189.3) rotate(-90)">29</text>
<text class="dt" style="font-size:34.5px;letter-spacing:0.6px" transform="translate(535.9,533) rotate(-90)">137</text>
<path class="t" d="M577.2,683.6 L1108.0,490.0"/>
<path class="k" d="M704.54,637.15 L686.48,647.47 L684.08,640.90 Z"/>
<path class="k" d="M1070.26,503.45 L1088.32,493.13 L1090.72,499.70 Z"/>
<text class="dt" transform="translate(575.5,678.4) rotate(-20.08)"><tspan x="1.5" textLength="18" lengthAdjust="spacingAndGlyphs">Ø</tspan><tspan x="19.5">1</tspan><tspan x="38.3">0</tspan><tspan x="57.3">0</tspan></text>
</g>
</svg>
</body></html>
